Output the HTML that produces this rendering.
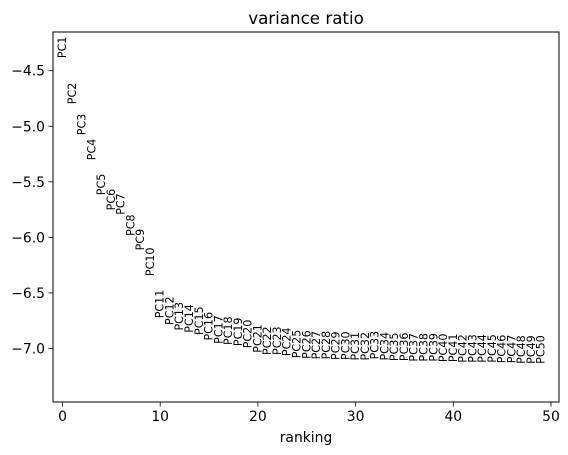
<!DOCTYPE html>
<html><head><meta charset="utf-8"><style>
body{margin:0;background:#fff;}
svg{display:block;font-family:"DejaVu Sans","Liberation Sans",sans-serif;}
</style></head><body>
<svg id="chart" width="568" height="455" viewBox="0 0 568 455">
<rect x="0" y="0" width="568" height="455" fill="#fff"/>
<text x="306" y="24" font-size="16.7" text-anchor="middle">variance ratio</text>
<g id="ticks"></g>
<g id="labels"></g>
<rect x="53" y="32" width="506" height="370" fill="none" stroke="#000" stroke-width="1"/>
<text x="306" y="442" font-size="13.9" text-anchor="middle">ranking</text>
</svg>
<script>
const pcNames = Array.from({length:50},(_,i)=>'PC'+(i+1));
const ratios = [-4.29,-4.705,-4.984,-5.209,-5.524,-5.66,-5.70,-5.89,-6.02,-6.22,
 -6.60,-6.66,-6.71,-6.73,-6.75,-6.80,-6.83,-6.84,-6.85,-6.87,
 -6.91,-6.93,-6.93,-6.94,-6.96,-6.965,-6.97,-6.97,-6.975,-6.975,
 -6.98,-6.98,-6.97,-6.98,-6.985,-6.985,-6.99,-6.99,-6.99,-6.995,
 -6.995,-7.0,-7.0,-7.0,-7.0,-7.005,-7.005,-7.01,-7.01,-7.01];
const xTicks = [0,10,20,30,40,50];
const yTicks = [-4.5,-5.0,-5.5,-6.0,-6.5,-7.0];
const xs = v => 62.5 + v*9.77;
const ys = v => 70.7 + (-4.5 - v)*111.1;
const NS='http://www.w3.org/2000/svg';
const tg=document.getElementById('ticks'), lg=document.getElementById('labels');
function mk(tag,attrs,parent,txt){const e=document.createElementNS(NS,tag);for(const k in attrs)e.setAttribute(k,attrs[k]);if(txt!==undefined)e.textContent=txt;parent.appendChild(e);return e;}
xTicks.forEach(t=>{
 const x=xs(t);
 const l=mk('line',{x1:x,x2:x,y1:402,y2:406.5,stroke:'#000','stroke-width':0.8},tg);
 
 
 const s=mk('text',{x:x,y:421,'font-size':13.9,'text-anchor':'middle'},tg,String(t));
 
 
});
yTicks.forEach(t=>{
 const y=ys(t);
 const l=mk('line',{x1:48.5,x2:53,y1:y,y2:y,stroke:'#000','stroke-width':0.8},tg);
 
 
 const s=mk('text',{x:45,y:y+5,'font-size':13.9,'text-anchor':'end'},tg,'\u2212'+Math.abs(t).toFixed(1));
 
 
});
ratios.forEach((r,i)=>{
 const x=xs(i), y=ys(r);
 const s=mk('text',{x:0,y:0,'font-size':11.1,'text-anchor':'middle','dominant-baseline':'central',transform:`translate(${x},${y}) rotate(-90)`},lg,pcNames[i]);
 
 
});
</script>
</body></html>
